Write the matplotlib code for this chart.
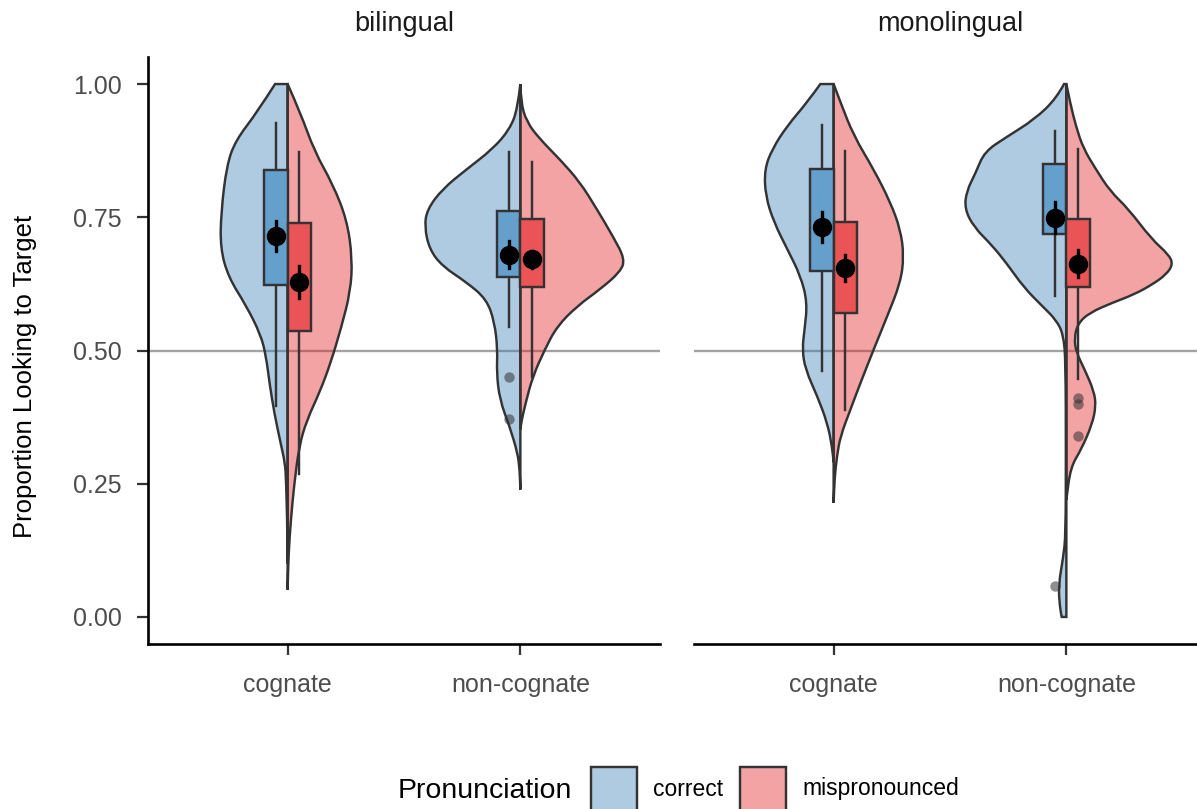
import numpy as np
import matplotlib
matplotlib.use('Agg')
import matplotlib.pyplot as plt
from matplotlib.path import Path
from matplotlib.patches import PathPatch, Rectangle

plt.rcParams['font.family'] = ['Liberation Sans', 'DejaVu Sans']

groups = ['bilingual', 'monolingual']
words = ['cognate', 'non-cognate']
pron = ['correct', 'mispronounced']

# violin outlines: proportion value and half width (x units) of each half
bi_cog_cor_v = [1.000, 0.947, 0.894, 0.847, 0.759, 0.692, 0.638, 0.584, 0.530, 0.490, 0.436, 0.382, 0.328, 0.288, 0.258, 0.182, 0.100]
bi_cog_cor_w = [0.054, 0.131, 0.224, 0.262, 0.286, 0.289, 0.255, 0.178, 0.116, 0.093, 0.077, 0.057, 0.031, 0.011, 0.007, 0.002, 0.000]
bi_cog_mis_v = [1.000, 0.947, 0.873, 0.813, 0.745, 0.672, 0.611, 0.544, 0.477, 0.423, 0.369, 0.320, 0.244, 0.182, 0.120, 0.051]
bi_cog_mis_w = [0.000, 0.054, 0.116, 0.193, 0.255, 0.278, 0.270, 0.231, 0.185, 0.139, 0.082, 0.049, 0.027, 0.014, 0.004, 0.000]
bi_non_cor_v = [1.000, 0.953, 0.915, 0.878, 0.840, 0.803, 0.765, 0.733, 0.690, 0.658, 0.628, 0.596, 0.553, 0.502, 0.459, 0.408, 0.357, 0.308, 0.276, 0.239]
bi_non_cor_w = [0.000, 0.012, 0.046, 0.119, 0.231, 0.335, 0.400, 0.412, 0.391, 0.335, 0.231, 0.145, 0.111, 0.098, 0.102, 0.089, 0.046, 0.012, 0.003, 0.000]
bi_non_mis_v = [1.000, 0.966, 0.929, 0.897, 0.859, 0.816, 0.765, 0.714, 0.671, 0.647, 0.615, 0.583, 0.545, 0.502, 0.451, 0.402, 0.370, 0.352]
bi_non_mis_w = [0.000, 0.002, 0.027, 0.083, 0.169, 0.256, 0.329, 0.398, 0.450, 0.428, 0.343, 0.243, 0.157, 0.105, 0.053, 0.023, 0.006, 0.000]
mo_cog_cor_v = [1.000, 0.966, 0.922, 0.878, 0.840, 0.790, 0.740, 0.690, 0.640, 0.590, 0.539, 0.502, 0.464, 0.414, 0.364, 0.320, 0.290]
mo_cog_cor_w = [0.057, 0.113, 0.199, 0.264, 0.297, 0.293, 0.256, 0.199, 0.142, 0.113, 0.125, 0.135, 0.121, 0.070, 0.027, 0.007, 0.000]
mo_cog_mis_v = [1.000, 0.966, 0.903, 0.840, 0.778, 0.727, 0.677, 0.627, 0.564, 0.502, 0.439, 0.389, 0.339, 0.301, 0.260, 0.214]
mo_cog_mis_w = [0.000, 0.029, 0.086, 0.172, 0.244, 0.287, 0.302, 0.287, 0.230, 0.172, 0.115, 0.072, 0.029, 0.014, 0.004, 0.000]
mo_non_cor_v = [1.000, 0.973, 0.934, 0.900, 0.873, 0.833, 0.799, 0.766, 0.732, 0.698, 0.665, 0.618, 0.584, 0.557, 0.530, 0.480, 0.300, 0.154, 0.113, 0.059, 0.019, 0.000]
mo_non_cor_w = [0.010, 0.043, 0.136, 0.259, 0.352, 0.390, 0.429, 0.437, 0.398, 0.321, 0.259, 0.182, 0.105, 0.043, 0.013, 0.003, 0.002, 0.003, 0.013, 0.034, 0.028, 0.020]
mo_non_mis_v = [1.000, 0.961, 0.920, 0.880, 0.840, 0.799, 0.766, 0.709, 0.680, 0.662, 0.643, 0.624, 0.605, 0.590, 0.571, 0.551, 0.524, 0.497, 0.463, 0.423, 0.396, 0.362, 0.315, 0.281, 0.220]
mo_non_mis_w = [0.000, 0.018, 0.042, 0.072, 0.127, 0.188, 0.266, 0.366, 0.440, 0.458, 0.430, 0.370, 0.290, 0.200, 0.100, 0.050, 0.034, 0.042, 0.080, 0.119, 0.127, 0.111, 0.065, 0.018, 0.000]

violins = {
    ('bilingual', 'cognate'): [(bi_cog_cor_v, bi_cog_cor_w), (bi_cog_mis_v, bi_cog_mis_w)],
    ('bilingual', 'non-cognate'): [(bi_non_cor_v, bi_non_cor_w), (bi_non_mis_v, bi_non_mis_w)],
    ('monolingual', 'cognate'): [(mo_cog_cor_v, mo_cog_cor_w), (mo_cog_mis_v, mo_cog_mis_w)],
    ('monolingual', 'non-cognate'): [(mo_non_cor_v, mo_non_cor_w), (mo_non_mis_v, mo_non_mis_w)],
}

# box stats, order: [group][word][pronunciation]
q1 = [[[0.622, 0.537], [0.637, 0.620]], [[0.650, 0.571], [0.719, 0.620]]]
q3 = [[[0.839, 0.740], [0.761, 0.746]], [[0.841, 0.741], [0.850, 0.746]]]
whisk_lo = [[[0.396, 0.268], [0.545, 0.451]], [[0.461, 0.389], [0.603, 0.446]]]
whisk_hi = [[[0.926, 0.872], [0.872, 0.853]], [[0.923, 0.875], [0.911, 0.879]]]
means = [[[0.715, 0.628], [0.680, 0.671]], [[0.731, 0.655], [0.749, 0.663]]]
se = [[[0.028, 0.030], [0.025, 0.016]], [[0.028, 0.024], [0.029, 0.025]]]
outliers = [[[[], []], [[0.451, 0.372], []]], [[[], []], [[0.058], [0.411, 0.400, 0.339]]]]

vio_cols = ['#377EB8', '#E41A1C']
box_cols = ['#659FCC', '#EB5456']
edge = '#333333'
LW = 1.75


def half_violin(ax, center, side, vals, widths, color):
    pts = [(center + side * w, v) for v, w in zip(vals, widths)]
    verts = [pts[0]]
    codes = [Path.MOVETO]
    for i in range(1, len(pts) - 1):
        mid = ((pts[i][0] + pts[i + 1][0]) / 2, (pts[i][1] + pts[i + 1][1]) / 2)
        verts += [pts[i], mid]
        codes += [Path.CURVE3, Path.CURVE3]
    verts += [pts[-1], (center, vals[-1]), (center, vals[0]), pts[0]]
    codes += [Path.LINETO, Path.LINETO, Path.LINETO, Path.CLOSEPOLY]
    ax.add_patch(PathPatch(Path(verts, codes), facecolor=matplotlib.colors.to_rgba(color, 0.4),
                           edgecolor=edge, lw=LW, zorder=2))


W, H = 1197, 809
fig = plt.figure(figsize=(W / 100, H / 100), dpi=100)

ax_bot = (H - 643.6) / H
ax_h = 586.2 / H
lefts = [148, 694]
axes = []
for gi, g in enumerate(groups):
    ax = fig.add_axes([lefts[gi] / W, ax_bot, 512 / W, ax_h])
    axes.append(ax)
    ax.set_xlim(0.4, 2.6)
    ax.set_ylim(-0.05, 1.05)
    ax.axhline(0.5, color='#A3A3A3', lw=1.7, zorder=1)
    for wi, wd in enumerate(words):
        c = wi + 1
        for pi in range(2):
            side = -1 if pi == 0 else 1
            vals, widths = violins[(g, wd)][pi]
            half_violin(ax, c, side, vals, widths, vio_cols[pi])
        for pi in range(2):
            bx = c - 0.05 if pi == 0 else c + 0.05
            lo, hi = q1[gi][wi][pi], q3[gi][wi][pi]
            ax.plot([bx, bx], [hi, whisk_hi[gi][wi][pi]], color=edge, lw=LW, zorder=3)
            ax.plot([bx, bx], [whisk_lo[gi][wi][pi], lo], color=edge, lw=LW, zorder=3)
            ax.add_patch(Rectangle((bx - 0.05, lo), 0.1, hi - lo, facecolor=box_cols[pi],
                                   edgecolor=edge, lw=LW, zorder=4))
            out = outliers[gi][wi][pi]
            if out:
                ax.plot([bx] * len(out), out, 'o', color='#333333', alpha=0.55, ms=7.5,
                        mec='none', zorder=5)
            m, s = means[gi][wi][pi], se[gi][wi][pi]
            ax.plot([bx, bx], [m - s, m + s], color='black', lw=2.4, zorder=6)
            ax.plot(bx, m, 'o', color='black', ms=13, zorder=7)

    ax.set_xticks([1, 2])
    ax.set_xticklabels(words)
    ax.set_yticks([0, 0.25, 0.5, 0.75, 1.0])
    ax.set_yticklabels(['0.00', '0.25', '0.50', '0.75', '1.00'])
    ax.tick_params(colors='#333333', labelcolor='#4D4D4D', labelsize=18, length=8,
                   width=1.6, pad=11)
    ax.tick_params(axis='x', pad=13)
    for sp in ['top', 'right']:
        ax.spines[sp].set_visible(False)
    ax.spines['bottom'].set_linewidth(1.9)
    ax.spines['left'].set_linewidth(1.9)
    ax.set_facecolor('none')
    if gi == 1:
        ax.spines['left'].set_visible(False)
        ax.tick_params(axis='y', left=False, labelleft=False)

# overlay in pixel units for the strip titles, axis title and legend
ov = fig.add_axes([0, 0, 1, 1], zorder=-1)
ov.set_xlim(0, W)
ov.set_ylim(H, 0)
ov.axis('off')

for gi, g in enumerate(groups):
    ov.text(lefts[gi] + 256, 31, g, fontsize=19.5, color='#1A1A1A', ha='center', va='baseline')

ov.text(25, 376, 'Proportion Looking to Target', fontsize=18.5, rotation=90,
        ha='center', va='center', color='black')

ov.text(398, 791, 'Pronunciation', fontsize=20.5, ha='left', va='center', color='black')
key_x = [591, 740]
lab_x = [653, 802]
for pi, p in enumerate(pron):
    ov.add_patch(Rectangle((key_x[pi], 767), 46, 46, facecolor=matplotlib.colors.to_rgba(vio_cols[pi], 0.4),
                           edgecolor=edge, lw=LW, clip_on=False))
    ov.text(lab_x[pi], 789, p, fontsize=16.5, ha='left', va='center', color='black')

fig.savefig('out.png', dpi=100)
